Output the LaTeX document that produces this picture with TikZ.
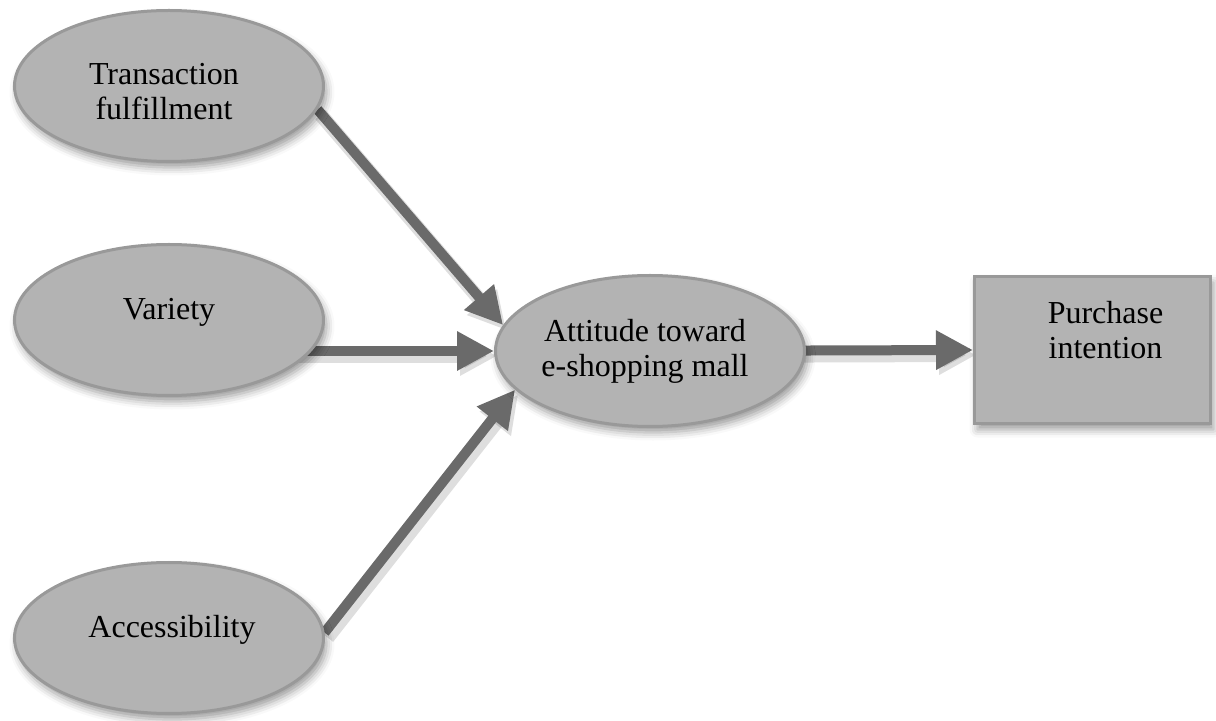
\documentclass[tikz,border=0pt]{standalone}
\usepackage{fontspec}
\setmainfont{Liberation Serif}
\usetikzlibrary{shapes.geometric,arrows.meta,shadows.blur}
\definecolor{fillgray}{HTML}{B3B3B3}
\definecolor{edgegray}{HTML}{999999}
\definecolor{arrowgray}{HTML}{6A6A6A}
\pgfdeclarelayer{background}
\pgfsetlayers{background,main}
\begin{document}
\begin{tikzpicture}[x=0.5pt,y=-0.5pt,
  softshadow/.style={blur shadow={shadow xshift=1.5pt, shadow yshift=-3pt,
      shadow blur radius=4pt, shadow opacity=40}},
  construct/.style={ellipse, draw=edgegray, line width=1.5pt, fill=fillgray,
      minimum width=154.5pt, minimum height=75.5pt, inner sep=0pt, softshadow},
  outcome/.style={rectangle, draw=edgegray, line width=1.5pt, fill=fillgray,
      minimum width=118pt, minimum height=73.5pt, inner sep=0pt, softshadow},
  txt/.style={font=\fontsize{16}{17.5}\selectfont, align=center, inner sep=0pt},
  flow/.style={draw=arrowgray, line width=5pt,
      -{Triangle[length=18.5pt,width=18.5pt]},
      preaction={draw=black, opacity=.13, line width=7pt,
        transform canvas={shift={(1.5pt,-2.5pt)}}}}]
\useasboundingbox (0,0) rectangle (1216,721);

% antecedent constructs
\node[construct, label={[txt, xshift=-2.5pt, yshift=-3pt]center:Transaction\\fulfillment}] (tf) at (169,86) {};
\node[construct, label={[txt, yshift=4pt]center:Variety}] (va) at (169,320) {};
\node[construct, label={[txt, xshift=1.5pt, yshift=4pt]center:Accessibility}] (ac) at (169,638) {};

% mediator and outcome
\node[construct, label={[txt, xshift=-2.5pt]center:Attitude toward\\e-shopping mall}] (att) at (650,351) {};
\node[outcome, label={[txt, xshift=6.5pt, yshift=10pt]center:Purchase\\intention}] (pi) at (1092.5,350) {};

% paths, kept behind the shapes
\begin{pgfonlayer}{background}
\draw[flow] (tf.-9) -- (att.170);
\draw[flow] (va.center |- att.west) -- (att.west);
\draw[flow] (ac.2) -- (att.196);
\draw[flow] (att.center) -- (pi.west);
\end{pgfonlayer}
\end{tikzpicture}
\end{document}
